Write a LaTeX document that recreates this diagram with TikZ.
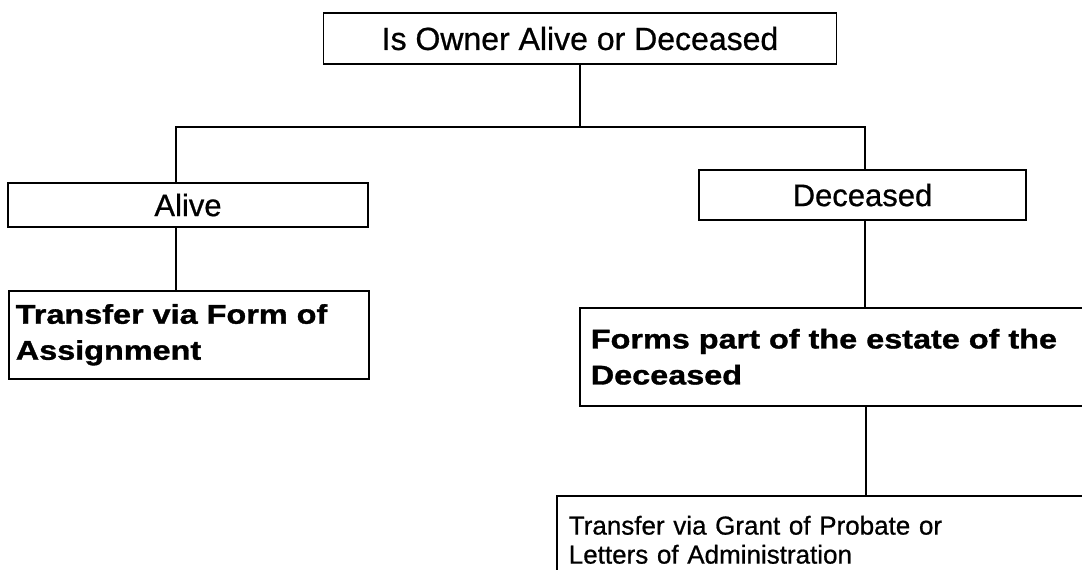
\documentclass[tikz,border=0pt]{standalone}
\usepackage{fontspec}
\setmainfont{Liberation Sans}
\newfontfamily\medfont{Liberation Sans}[FakeBold=0.7]
\newfontfamily\blackfont{Liberation Sans Bold}[FakeStretch=1.2,FakeBold=1.2]
\begin{document}
\begin{tikzpicture}[x=1pt,y=-1pt,
  box/.style={draw=black,line width=1.6pt,rectangle,inner sep=0pt},
  link/.style={draw=black,line width=2pt},
  reg/.style={font={\medfont\fontsize{#1}{#1}\selectfont}},
  blk/.style={font={\blackfont\fontsize{27}{36}\selectfont}}]
\useasboundingbox (0,0) rectangle (1082,570);
\clip (0,0) rectangle (1082,570);
\node[box,minimum width=513pt,minimum height=51pt,reg=32] (top) at (580,38.5) {Is Owner Alive or Deceased};
\node[box,minimum width=360pt,minimum height=44pt,reg=31] (alive) at (188,205) {Alive};
\node[box,minimum width=327pt,minimum height=50pt,reg=31] (dec) at (862.5,195) {Deceased};
\node[box,anchor=north west,inner xsep=7pt,text width=346pt,minimum height=88pt,align=left,blk] (assign) at (8,290) {Transfer via Form of\\Assignment};
\node[box,anchor=north west,inner xsep=11pt,text width=600pt,minimum height=98pt,align=left,blk] (estate) at (579,307) {Forms part of the estate of the\\Deceased};
\node[box,anchor=north west,inner xsep=12pt,text width=600pt,minimum height=88pt,align=left,font={\medfont\fontsize{26}{29}\selectfont}] (probate) at (556,495) {Transfer via Grant of Probate or\\Letters of Administration};
\coordinate (jl) at (176,127);
\coordinate (jr) at (865,127);
\coordinate (jm) at (top.south |- jl);
\coordinate (jb) at (866,0);
\draw[link] (top.south) -- (jm);
\draw[link] (alive.north -| jl) -- (jl) -- (jr) -- (dec.north -| jr);
\draw[link] (alive.south -| jl) -- (assign.north -| jl);
\draw[link] (dec.south -| jr) -- (estate.north -| jr);
\draw[link] (estate.south -| jb) -- (probate.north -| jb);
\end{tikzpicture}
\end{document}
